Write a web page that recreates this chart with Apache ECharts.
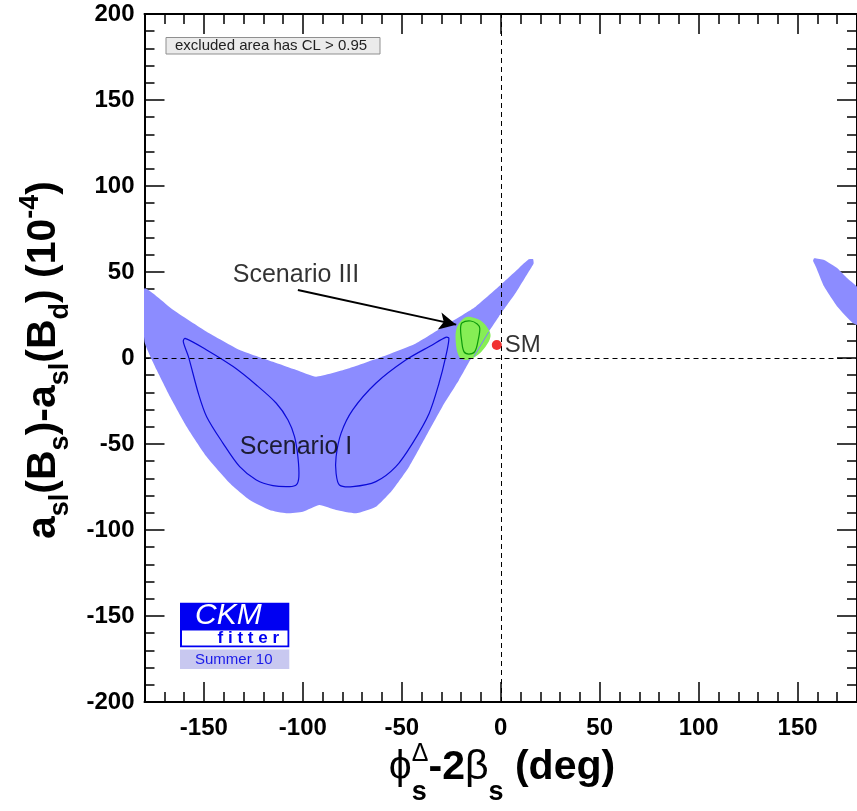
<!DOCTYPE html>
<html><head><meta charset="utf-8">
<script src="https://cdn.jsdelivr.net/npm/echarts@6/dist/echarts.min.js"></script>
<style>html,body{margin:0;padding:0;background:#fff}#c{width:857px;height:811px}</style>
</head><body><div id="c"></div>
<script>
// ---- data (in axis units) ----
const xTickLabels = [-150, -100, -50, 0, 50, 100, 150];
const yTickLabels = [-200, -150, -100, -50, 0, 50, 100, 150, 200];

// excluded-area boundary (CL > 0.95), main region
const outerX = [-180, -165.4, -148.6, -131.9, -115.1, -103.3, -93.3, -76.5, -59.7, -42.9, -26.2, -12.7, -1.0, 9.1, 14.1, 16.3, 16.6, 14.1, 7.4, -1.0, -7.7, -14.4, -21.1, -29.5, -37.9, -46.3, -54.7, -63.1, -73.1, -83.2, -91.6, -100.0, -108.4, -116.8, -126.8, -136.9, -148.6, -158.7, -167.1, -173.8, -180];
const outerY = [40.5, 27.9, 15.3, 4.7, -2.2, -7.0, -10.9, -6.0, 0.8, 8.5, 20.2, 29.8, 41.5, 52.2, 57.4, 57.5, 55.0, 50.2, 37.6, 24.0, 12.4, 0.8, -12.8, -28.3, -45.8, -63.2, -76.7, -86.5, -90.3, -88.4, -85.5, -89.4, -90.3, -88.4, -82.6, -72.8, -57.4, -39.9, -22.5, -7.0, 9.5];
// wrap-around piece near +180
const wrapX = [158.4, 163.4, 170.1, 175.1, 181, 181, 177.7, 170.1, 163.4, 159.2, 157.8];
const wrapY = [58.0, 57.0, 52.2, 46.3, 40, 19, 20.5, 29.8, 41.5, 53.1, 56.5];
// Scenario I contours
const scenILeftX = [-159.5, -148.6, -135.2, -123.5, -113.4, -107.5, -104.2, -102.5, -102.0, -103.3, -106.7, -115.1, -123.5, -131.9, -140.3, -148.6, -152.8, -157.8, -160.4];
const scenILeftY = [11.4, 4.7, -5.0, -15.7, -26.3, -36.0, -45.7, -57.4, -69.0, -73.8, -74.8, -74.2, -70.9, -63.2, -49.6, -34.1, -20.5, 0.8, 9.5];
const scenIRightX = [-26.2, -27.8, -31.2, -36.2, -44.6, -53.0, -63.1, -74.8, -81.5, -83.2, -83.2, -80.7, -74.8, -63.1, -48.0, -34.6, -27.8];
const scenIRightY = [11.5, 0.8, -14.7, -32.2, -49.6, -63.2, -71.9, -74.8, -73.8, -67.0, -57.4, -43.8, -30.2, -14.7, -1.2, 7.6, 12.0];
// Scenario III region and contour
const scenIIIFillX = [-17.8, -22.0, -22.8, -21.1, -17.8, -12.7, -7.7, -5.2, -6.0, -9.4, -13.6];
const scenIIIFillY = [23.7, 18.2, 10.5, 0.8, -1.2, 0.8, 6.6, 12.4, 16.3, 21.1, 23.4];
const scenIIILineX = [-19.5, -15.2, -11.9, -10.6, -11.4, -13.1, -16.1, -18.6, -19.8, -20.3];
const scenIIILineY = [20.5, 21.5, 19.8, 17.3, 10.5, 3.7, 2.3, 3.7, 10.5, 17.3];
const scenIIIEdgeX = [-6.0, -13.6];
const scenIIIEdgeY = [15.3, 0.8];
// Standard Model point
const smPoint = [-2, 7.6];
// annotations
const arrowFrom = [-102.5, 39.5];
const arrowTo = [-22.5, 19.4];
const noteNames = ['Scenario III', 'Scenario I'];
const noteX = [-135.4, -131.9];
const noteY = [48.3, -51.6];

// ---- chart ----
const FONT = 'Liberation Sans';
const chart = echarts.init(document.getElementById('c'), null, {renderer: 'canvas'});

const minorX = [];
for (let v = -170; v <= 170; v += 10) if (v % 50 !== 0) minorX.push(v);

const axisLineStyle = {color: '#000', width: 2};
const tickStyle = {color: '#000', width: 1.5};
function xAx(pos, vals, len, labels, line) {
  return {
    type: 'value', position: pos, min: -180, max: 180,
    axisLine: {show: line, onZero: false, lineStyle: axisLineStyle},
    axisTick: {show: true, inside: true, length: len, customValues: vals, lineStyle: tickStyle},
    axisLabel: labels ? {show: true, customValues: vals, margin: 14, color: '#000', fontSize: 24, fontWeight: 'bold', fontFamily: FONT} : {show: false},
    splitLine: {show: false}
  };
}
function yAx(pos, labels) {
  return {
    type: 'value', position: pos, min: -200, max: 200, interval: 50,
    axisLine: {show: true, onZero: false, lineStyle: axisLineStyle},
    axisTick: {show: true, inside: true, length: 20, lineStyle: tickStyle},
    minorTick: {show: true, splitNumber: 5, length: 10, lineStyle: tickStyle},
    axisLabel: labels ? {show: true, margin: 10, color: '#000', fontSize: 24, fontWeight: 'bold', fontFamily: FONT} : {show: false},
    splitLine: {show: false}, minorSplitLine: {show: false}
  };
}

function poly(xs, ys, style, z, smooth, closed) {
  return {
    type: 'custom', xAxisIndex: 0, yAxisIndex: 0, clip: true, silent: true, z: z,
    data: [[xs[0], ys[0]]],
    renderItem: function (p, api) {
      return {
        type: closed ? 'polygon' : 'polyline',
        shape: {points: xs.map(function (x, i) { return api.coord([x, ys[i]]); }), smooth: smooth},
        style: style
      };
    }
  };
}

// ---- titles built from measured text pieces ----
const mctx = document.createElement('canvas').getContext('2d');
function buildTitle(pieces) {
  let x = 0, stackW = 0;
  const els = [];
  pieces.forEach(function (pc) {
    const f = (pc.w || '') + ' ' + pc.s + 'px "' + FONT + '"';
    mctx.font = f;
    const w = mctx.measureText(pc.t).width;
    els.push({type: 'text', x: x, y: (pc.dy || 0) - 0.35 * pc.s,
      style: {text: pc.t, font: f, fill: '#000', textAlign: 'left', textVerticalAlign: 'middle', verticalAlign: 'middle'}});
    if (pc.stack) { stackW = w; }
    else { x += Math.max(w, stackW); stackW = 0; }
  });
  const half = x / 2;
  els.forEach(function (e) { e.x -= half; });
  return els;
}
const M = 41, S = 27;
const xTitle = buildTitle([
  {t: 'ϕ', s: M, w: 'normal'},
  {t: 'Δ', s: 25, w: 'normal', dy: -19, stack: true},
  {t: 's', s: S, w: 'bold', dy: 20},
  {t: '-2', s: M, w: 'bold'},
  {t: 'β', s: M, w: 'normal'},
  {t: 's', s: S, w: 'bold', dy: 20},
  {t: ' (deg)', s: M, w: 'bold'}
]);
const yTitle = buildTitle([
  {t: 'a', s: M, w: 'bold'},
  {t: 'sl', s: S, w: 'bold', dy: 12},
  {t: '(B', s: M, w: 'bold'},
  {t: 's', s: S, w: 'bold', dy: 12},
  {t: ')-a', s: M, w: 'bold'},
  {t: 'sl', s: S, w: 'bold', dy: 12},
  {t: '(B', s: M, w: 'bold'},
  {t: 'd', s: S, w: 'bold', dy: 12},
  {t: ') (10', s: M, w: 'bold'},
  {t: '-4', s: S, w: 'bold', dy: -18},
  {t: ')', s: M, w: 'bold'}
]);

const option = {
  animation: false,
  backgroundColor: '#fff',
  grid: {left: 144.5, top: 14, width: 715, height: 688, containLabel: false},
  xAxis: [
    xAx('bottom', xTickLabels, 20, true, true),
    xAx('bottom', minorX, 10, false, false),
    xAx('top', xTickLabels, 20, false, true),
    xAx('top', minorX, 10, false, false)
  ],
  yAxis: [yAx('left', true), yAx('right', false)],
  series: [
    poly(outerX, outerY, {fill: '#8c8cff', stroke: 'none'}, 1, 0.15, true),
    poly(wrapX, wrapY, {fill: '#8c8cff', stroke: 'none'}, 1, 0.15, true),
    poly(scenILeftX, scenILeftY, {fill: 'none', stroke: '#0a0ad8', lineWidth: 1.2}, 2, 0.3, true),
    poly(scenIRightX, scenIRightY, {fill: 'none', stroke: '#0a0ad8', lineWidth: 1.2}, 2, 0.3, true),
    poly(scenIIIFillX, scenIIIFillY, {fill: '#86ee55', stroke: 'none'}, 3, 0.35, true),
    poly(scenIIILineX, scenIIILineY, {fill: 'none', stroke: '#0c9a0c', lineWidth: 1.2}, 4, 0.35, true),
    poly(scenIIIEdgeX, scenIIIEdgeY, {fill: 'none', stroke: '#7d7dff', lineWidth: 1}, 4, 0, false),
    {
      type: 'scatter', xAxisIndex: 0, yAxisIndex: 0, z: 8, silent: true,
      data: noteX.map(function (x, i) { return {value: [x, noteY[i]], name: noteNames[i]}; }),
      symbolSize: 0.01, itemStyle: {color: 'rgba(0,0,0,0)'},
      label: {show: true, formatter: '{b}', position: 'right', distance: 0, color: '#000', fontSize: 25, fontFamily: FONT},
      markLine: {
        silent: true, symbol: ['none', 'arrow'], symbolSize: [13, 17],
        lineStyle: {color: '#000', width: 2, type: 'solid'}, label: {show: false},
        data: [[{coord: arrowFrom}, {coord: arrowTo}]]
      }
    },
    {
      type: 'scatter', xAxisIndex: 0, yAxisIndex: 0, z: 9, silent: true,
      data: [smPoint], symbolSize: 10, itemStyle: {color: '#ee0000'},
      label: {show: true, formatter: 'SM', position: 'right', distance: 3, color: '#000', fontSize: 24, fontFamily: FONT},
      markLine: {
        silent: true, symbol: ['none', 'none'],
        lineStyle: {color: '#000', width: 1, type: [5, 4]}, label: {show: false},
        data: [{xAxis: 0}, {yAxis: 0}]
      }
    }
  ],
  graphic: {elements: [
    {type: 'rect', shape: {x: 166, y: 37.5, width: 214, height: 16.5}, style: {fill: '#ebebeb', stroke: '#8f8f8f', lineWidth: 1}},
    {type: 'text', x: 175, y: 46, style: {text: 'excluded area has CL > 0.95', font: '15px "' + FONT + '"', fill: '#222', textVerticalAlign: 'middle', verticalAlign: 'middle'}},
    {type: 'rect', shape: {x: 180, y: 602.7, width: 109.3, height: 44.6}, style: {fill: '#0000f2'}},
    {type: 'rect', shape: {x: 182, y: 630.5, width: 105.5, height: 15}, style: {fill: '#fff'}},
    {type: 'text', x: 195, y: 616, style: {text: 'CKM', font: 'italic 30px "' + FONT + '"', fill: '#fff', textVerticalAlign: 'middle', verticalAlign: 'middle'}},
    {type: 'text', x: 279, y: 638.5, style: {text: 'f i t t e r', font: 'bold 17px "' + FONT + '"', fill: '#0000f2', textAlign: 'right', textVerticalAlign: 'middle', verticalAlign: 'middle'}},
    {type: 'rect', shape: {x: 180, y: 649.5, width: 109.3, height: 19.5}, style: {fill: '#c8c8f0'}},
    {type: 'text', x: 195, y: 659.5, style: {text: 'Summer 10', font: '15px "' + FONT + '"', fill: '#1a1ae8', textVerticalAlign: 'middle', verticalAlign: 'middle'}},
    {type: 'group', x: 502, y: 782, children: xTitle},
    {type: 'group', x: 58, y: 360, rotation: Math.PI / 2, children: yTitle}
  ]}
};
chart.setOption(option);
</script>
</body></html>
